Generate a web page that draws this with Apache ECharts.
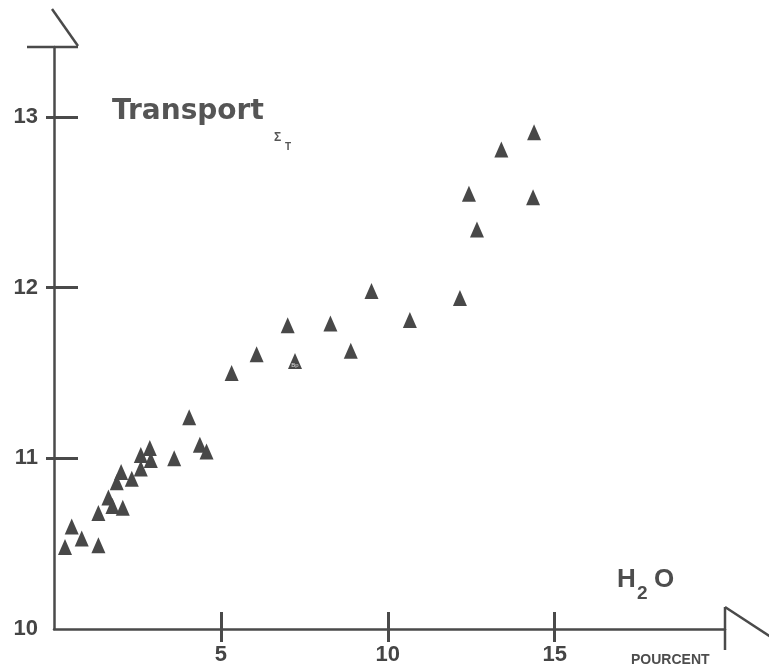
<!DOCTYPE html>
<html>
<head>
<meta charset="utf-8">
<script src="https://cdn.jsdelivr.net/npm/echarts@6/dist/echarts.min.js"></script>
<style>
html,body{margin:0;padding:0;background:#fff;}
#chart{width:769px;height:670px;}
</style>
</head>
<body>
<div id="chart"></div>
<script>
// H2O (pourcent) values
var waterPct = [0.33,0.53,0.83,1.33,1.33,1.63,1.75,2.06,1.88,2.01,2.33,2.60,2.60,2.87,2.90,3.60,4.05,4.37,4.57,
                5.32,6.07,7.00,7.22,8.28,8.89,9.51,10.66,12.16,12.43,12.67,13.40,14.35,14.38];
// Transport Σ_T values
var transport = [10.48,10.60,10.53,10.49,10.68,10.77,10.72,10.71,10.86,10.92,10.88,10.94,11.02,11.06,10.99,11.00,11.24,11.08,11.04,
                 11.50,11.61,11.78,11.57,11.79,11.63,11.98,11.81,11.94,12.55,12.34,12.81,12.53,12.91];
var pointNotes = {22: 'Bp'};
var xTickValues = [5, 10, 15];
var yLabelValues = [10, 11, 12, 13];
var yTickValues = [11, 12, 13];

var ink = '#4a4a4a';
var txt = '#454545';
var fontF = '"Liberation Sans", Arial, sans-serif';

var data = waterPct.map(function (x, i) {
  var item = { value: [x, transport[i]] };
  if (pointNotes[i]) {
    item.label = { show: true, formatter: pointNotes[i], position: 'inside', offset: [0, 4],
                   fontSize: 6, color: '#ddd', fontFamily: fontF };
  }
  return item;
});

var chart = echarts.init(document.getElementById('chart'), null, { renderer: 'canvas' });

var xBase = { type: 'value', min: 0, max: 20.1, interval: 5, splitLine: { show: false } };
var yBase = { type: 'value', min: 10, max: 13.41, interval: 1, splitLine: { show: false } };

var option = {
  backgroundColor: '#fff',
  animation: false,
  grid: { left: 54, right: 44, top: 47, bottom: 41, containLabel: false },
  xAxis: [
    Object.assign({}, xBase, {
      position: 'bottom',
      axisLine: { show: true, onZero: false, lineStyle: { color: ink, width: 2.5 } },
      axisTick: { show: true, inside: true, length: 17, customValues: xTickValues, lineStyle: { color: ink, width: 3 } },
      axisLabel: { show: true, customValues: xTickValues, margin: 15, fontSize: 22, fontWeight: 'bold', color: txt, fontFamily: fontF }
    }),
    Object.assign({}, xBase, {
      position: 'bottom',
      axisLine: { show: false, onZero: false },
      axisTick: { show: true, inside: false, length: 13, customValues: xTickValues, lineStyle: { color: ink, width: 3 } },
      axisLabel: { show: false }
    })
  ],
  yAxis: [
    Object.assign({}, yBase, {
      position: 'left',
      axisLine: { show: true, onZero: false, lineStyle: { color: ink, width: 2.5 } },
      axisTick: { show: true, inside: true, length: 24, customValues: yTickValues, lineStyle: { color: ink, width: 3 } },
      axisLabel: { show: true, customValues: yLabelValues, margin: 16, fontSize: 22, fontWeight: 'bold', color: txt, fontFamily: fontF }
    }),
    Object.assign({}, yBase, {
      position: 'left', offset: 0,
      axisLine: { show: false, onZero: false },
      axisTick: { show: true, inside: false, length: 8, customValues: yTickValues, lineStyle: { color: ink, width: 3 } },
      axisLabel: { show: false }
    })
  ],
  series: [{
    type: 'scatter',
    xAxisIndex: 0, yAxisIndex: 0,
    symbol: 'triangle',
    symbolSize: [14, 16],
    itemStyle: { color: '#484848', opacity: 1 },
    data: data
  }]
};
chart.setOption(option);

// decorations (axis break marks and texts), positioned from the axes
var o = chart.convertToPixel({ xAxisIndex: 0, yAxisIndex: 0 }, [0, 10]);
var e = chart.convertToPixel({ xAxisIndex: 0, yAxisIndex: 0 }, [20.1, 13.41]);
var lineStyle = { stroke: ink, lineWidth: 2.5 };
chart.setOption({
  graphic: [
    { type: 'line', shape: { x1: o[0] - 27, y1: e[1], x2: o[0] + 24, y2: e[1] }, style: lineStyle },
    { type: 'line', shape: { x1: o[0] + 24, y1: e[1] - 1, x2: o[0] - 2, y2: e[1] - 38 }, style: lineStyle },
    { type: 'line', shape: { x1: e[0], y1: o[1] - 22, x2: e[0], y2: o[1] + 21 }, style: lineStyle },
    { type: 'line', shape: { x1: e[0], y1: o[1] - 22, x2: e[0] + 46, y2: o[1] + 8 }, style: lineStyle },
    { type: 'text', x: 112, y: 98, style: { text: 'Transport', fontSize: 28, fontWeight: 'bold', fill: '#555', fontFamily: '"DejaVu Sans", sans-serif' } },
    { type: 'text', x: 274, y: 132, style: { text: 'Σ', fontSize: 12, fontWeight: 'bold', fill: '#555', fontFamily: fontF } },
    { type: 'text', x: 285, y: 142, style: { text: 'T', fontSize: 10, fontWeight: 'bold', fill: '#555', fontFamily: fontF } },
    { type: 'text', x: 617, y: 567, style: { text: 'H', fontSize: 26, fontWeight: 'bold', fill: '#4d4d4d', fontFamily: fontF } },
    { type: 'text', x: 637, y: 584, style: { text: '2', fontSize: 19, fontWeight: 'bold', fill: '#4d4d4d', fontFamily: fontF } },
    { type: 'text', x: 654, y: 567, style: { text: 'O', fontSize: 26, fontWeight: 'bold', fill: '#4d4d4d', fontFamily: fontF } },
    { type: 'text', x: 631, y: 653, style: { text: 'POURCENT', fontSize: 14, fontWeight: 'bold', fill: '#4d4d4d', fontFamily: fontF } }
  ]
});
</script>
</body>
</html>
